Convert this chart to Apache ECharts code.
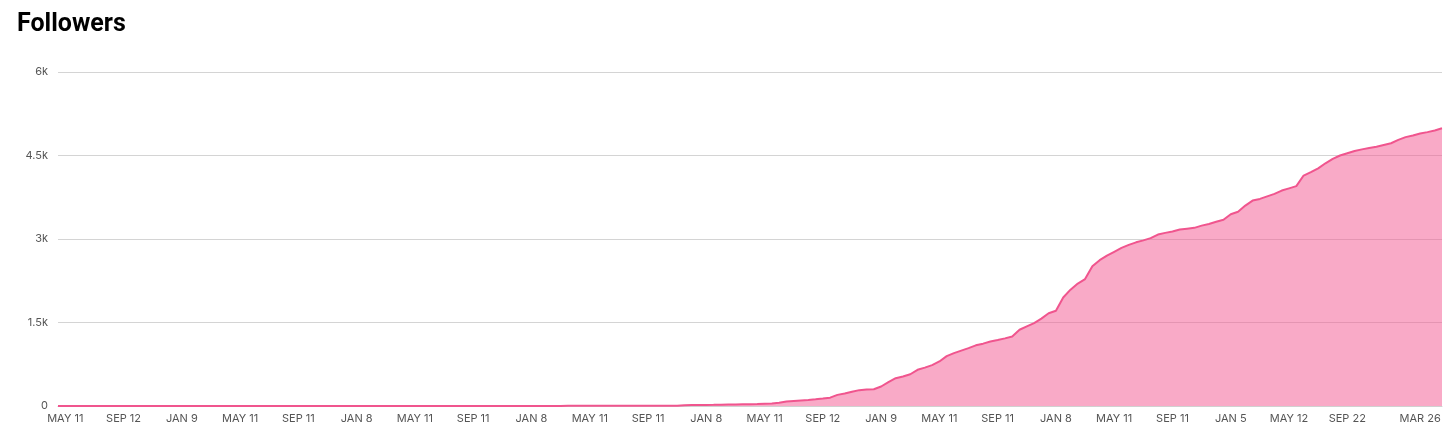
<!DOCTYPE html>
<html>
<head>
<meta charset="utf-8">
<script src="https://cdn.jsdelivr.net/npm/echarts@6/dist/echarts.min.js"></script>
<style>
html,body{margin:0;padding:0;background:#fff;}
#c{width:1456px;height:440px;}
</style>
</head>
<body>
<div id="c"></div>
<script>
const title = 'Followers';

// follower count per sample (roughly weekly steps along the axis)
const followers = [
  0,0,0,0,0,0,0,0,0,0, 0,0,0,0,0,0,0,0,0,0,
  0,0,0,0,0,0,0,0,0,0, 1,1,1,1,1,1,1,1,1,1,
  1,1,1,1,1,1,1,1,1,1, 1,1,1,2,2,2,2,2,2,2,
  2,2,2,2,2,2,2,2,2,2, 3,3,3,3,3,3,3,3,3,3,
  3,3,3,3,3,3,15,17,18,20, 21,23,25,27,30,32,35,40,45,60,
  82,92,100,108,120,133,150,200,225,255, 285,295,300,350,430,500,530,570,650,690,
  735,800,895,950,995,1040,1090,1120,1160,1185, 1215,1250,1370,1430,1490,1570,1665,1710,1950,2090,
  2200,2280,2510,2620,2700,2770,2840,2895,2940,2975, 3015,3080,3110,3135,3170,3185,3200,3240,3270,3310,
  3345,3445,3490,3600,3690,3720,3765,3810,3870,3910, 3950,4140,4200,4270,4360,4440,4500,4540,4580,4610,
  4635,4658,4690,4720,4780,4830,4860,4895,4920,4950, 4990
];

const tickLabels = ['MAY 11','SEP 12','JAN 9','MAY 11','SEP 11','JAN 8','MAY 11','SEP 11','JAN 8','MAY 11','SEP 11','JAN 8','MAY 11','SEP 12','JAN 9','MAY 11','SEP 11','JAN 8','MAY 11','SEP 11','JAN 5','MAY 12','SEP 22','MAR 26'];
const tickIndex = [1,9,17,25,33,41,49,57,65,73,81,89,97,105,113,121,129,137,145,153,161,169,177,187];

const yMax = 6000;
const yStep = 1500;

const categories = followers.map((_, i) => String(i));
const labelAt = {};
tickIndex.forEach((idx, k) => { labelAt[idx] = tickLabels[k]; });

const chart = echarts.init(document.getElementById('c'), null, {renderer: 'canvas'});
chart.setOption({
  animation: false,
  backgroundColor: '#ffffff',
  title: {
    text: title,
    left: 12,
    top: 7,
    textStyle: {fontFamily: 'Roboto', fontWeight: 'bold', fontSize: 25, color: '#000'}
  },
  grid: {left: 58, right: 14, top: 72, bottom: 34, containLabel: false},
  xAxis: {
    type: 'category',
    data: categories,
    boundaryGap: false,
    axisLine: {show: true, lineStyle: {color: '#d0d0d0', width: 1}},
    axisTick: {show: false},
    splitLine: {show: false},
    axisLabel: {
      interval: (index) => labelAt[index] !== undefined,
      formatter: (v, i) => labelAt[i] || '',
      color: '#555',
      fontFamily: 'Inter',
      fontSize: 11,
      margin: 7
    }
  },
  yAxis: {
    type: 'value',
    min: 0,
    max: yMax,
    interval: yStep,
    axisLine: {show: false},
    axisTick: {show: false},
    splitLine: {show: true, lineStyle: {color: '#d4d4d4', width: 1}},
    axisLabel: {
      formatter: (v) => v === 0 ? '0' : (v / 1000) + 'k',
      color: '#555',
      fontFamily: 'Inter',
      fontSize: 11,
      margin: 10
    }
  },
  series: [{
    type: 'line',
    data: followers,
    showSymbol: false,
    smooth: false,
    lineStyle: {color: '#f0558e', width: 2},
    areaStyle: {color: 'rgba(243,85,143,0.5)', opacity: 1},
    z: 2
  }]
});
</script>
</body>
</html>
